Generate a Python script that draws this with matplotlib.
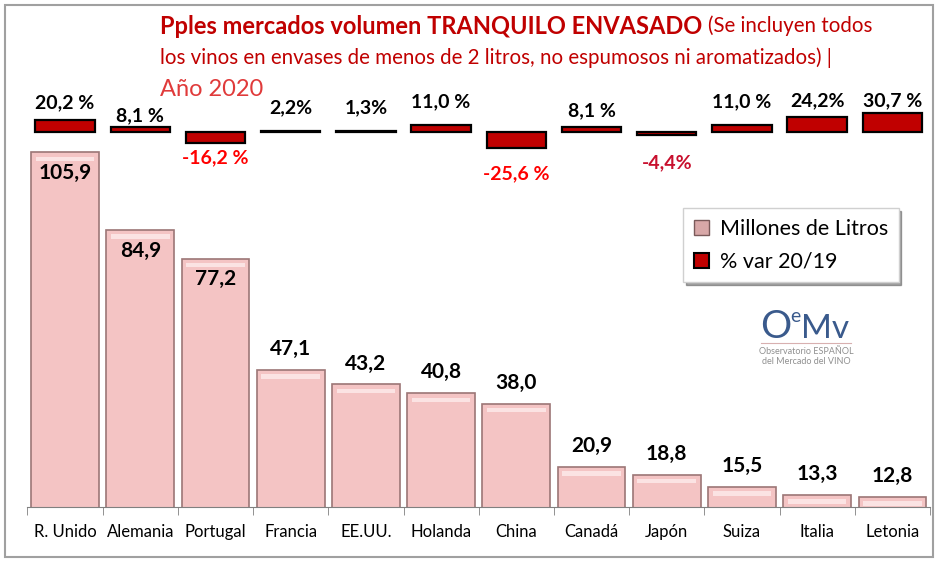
import matplotlib.pyplot as plt
import matplotlib.patches as mpatches
from matplotlib.lines import Line2D
import numpy as np

########## data ##########
paises = ['R. Unido', 'Alemania', 'Portugal', 'Francia', 'EE.UU.', 'Holanda',
          'China', 'Canadá', 'Japón', 'Suiza', 'Italia', 'Letonia']
millones_litros = [105.9, 84.9, 77.2, 47.1, 43.2, 40.8, 38.0, 20.9, 18.8, 15.5, 13.3, 12.8]
var_pct = [20.2, 8.1, -16.2, 2.2, 1.3, 11.0, -25.6, 8.1, -4.4, 11.0, 24.2, 30.7]
var_txt = ['20,2 %', '8,1 %', '-16,2 %', '2,2%', '1,3%', '11,0 %',
           '-25,6 %', '8,1 %', '-4,4%', '11,0 %', '24,2%', '30,7 %']

########## layout / style ##########
pct_label_dy = [12, 8, -11, 17, 17, 17, -18, 12, -20, 17, 12, 9]   # points
pct_label_col = ['black', 'black', '#FF0000', 'black', 'black', 'black',
                 '#FF0000', 'black', '#C8102E', 'black', 'black', 'black']
rojo = '#C00000'
rosa = '#F4C4C4'
borde_rosa = '#9C7676'
fuente = ['Lato', 'DejaVu Sans']
fuente_narrow = ['Liberation Sans Narrow', 'Lato', 'DejaVu Sans']

plt.rcParams['font.family'] = fuente

fig = plt.figure(figsize=(9.47, 5.66), dpi=100)
ax = fig.add_axes([0.029, 0.104, 0.953, 0.719])
ax2 = ax.twinx()

x = np.arange(len(paises))

# main bars (Millones de Litros) - axis starts at 10 like the original
ax.bar(x, millones_litros, width=0.9, color=rosa, edgecolor=borde_rosa, linewidth=1.2, zorder=2)
# bevel highlight near the top of each bar
for xi, v in zip(x, millones_litros):
    ax.bar(xi, 1.2, bottom=v - 2.4, width=0.78, color='#FBE3E3', edgecolor='none', zorder=3)
ax.set_ylim(10, 120)
ax.set_xlim(-0.5, len(paises) - 0.5)

for xi, v in zip(x, millones_litros):
    dy = -15 if v > 60 else 15
    ax.annotate(f'{v:.1f}'.replace('.', ','), (xi, v), xytext=(0, dy), textcoords='offset points',
                ha='center', va='center', fontsize=15, fontweight='bold', zorder=5)

# secondary bars (% var)
ax2.bar(x, var_pct, width=0.79, color=rojo, edgecolor='black', linewidth=1.6, zorder=2)
ax2.set_ylim(-595, 51)
for xi, v, t, dy, c in zip(x, var_pct, var_txt, pct_label_dy, pct_label_col):
    ax2.annotate(t, (xi, v), xytext=(0, dy), textcoords='offset points',
                 ha='center', va='center', fontsize=14, fontweight='bold', color=c)

# axes cosmetics
for a in (ax, ax2):
    for s in ('top', 'right', 'left'):
        a.spines[s].set_visible(False)
    a.set_yticks([])
ax2.spines['bottom'].set_visible(False)
ax.spines['bottom'].set_color('#808080')
ax.set_xticks(x)
ax.set_xticklabels(paises, fontsize=12, family=fuente_narrow)
ax.tick_params(axis='x', which='major', length=0, pad=12)
ax.set_xticks(np.arange(-0.5, len(paises)), minor=True)
ax.tick_params(axis='x', which='minor', length=6, color='#808080')

# legend
h1 = mpatches.Patch(facecolor='#D8A8A8', edgecolor='#7A5A5A', label='Millones de Litros')
h2 = mpatches.Patch(facecolor=rojo, edgecolor='black', linewidth=1.5, label='% var 20/19')
leg = fig.legend(handles=[h1, h2], loc='upper left', bbox_to_anchor=(683 / 947, 1 - 208 / 566),
                 borderaxespad=0, fontsize=15.5, frameon=True, fancybox=False, shadow=True,
                 handlelength=0.7, handleheight=0.7, handletextpad=0.5, borderpad=0.5,
                 labelspacing=0.6)
leg.get_frame().set_edgecolor('#D0D0D0')

# title (mixed styles)
fig.canvas.draw()
r = fig.canvas.get_renderer()
t1 = fig.text(160 / 947, 1 - 26 / 566, 'Pples mercados volumen TRANQUILO ENVASADO', color=rojo,
              fontsize=17, fontweight='bold', va='center', ha='left')
bb = t1.get_window_extent(r)
fig.text(bb.x1 / 947 + 0.006, 1 - 26 / 566, '(Se incluyen todos', color=rojo,
         fontsize=14.8, va='center', ha='left')
fig.text(160 / 947, 1 - 58 / 566, 'los vinos en envases de menos de 2 litros, no espumosos ni aromatizados) |',
         color=rojo, fontsize=14.8, va='center', ha='left')
fig.text(160 / 947, 1 - 90 / 566, 'Año 2020', color='#E03A3A', fontsize=17, va='center', ha='left')

# logo OeMv
logo_col = '#3A5A8C'
fig.text(760 / 947, 1 - 327 / 566, 'O', color=logo_col, fontsize=28, va='center', ha='left')
fig.text(790 / 947, 1 - 316 / 566, 'e', color=logo_col, fontsize=14, va='center', ha='left')
fig.text(801 / 947, 1 - 329 / 566, 'Mv', color=logo_col, fontsize=24, va='center', ha='left')
fig.add_artist(Line2D([761 / 947, 851 / 947], [1 - 343 / 566, 1 - 343 / 566], color='#D8B0B0', lw=0.8))
fig.text(806 / 947, 1 - 351 / 566, 'Observatorio ESPAÑOL', color='#909090', fontsize=6.5,
         va='center', ha='center', family=fuente_narrow)
fig.text(806 / 947, 1 - 362 / 566, 'del Mercado del VINO', color='#909090', fontsize=6.5,
         va='center', ha='center', family=fuente_narrow)

# outer border
fig.add_artist(mpatches.Rectangle((5 / 947, 1 - 557 / 566), 928 / 947, 552 / 566,
                                  transform=fig.transFigure, fill=False, edgecolor='#A0A0A0', lw=1.5))

plt.savefig('out.png', dpi=100)
plt.close()
